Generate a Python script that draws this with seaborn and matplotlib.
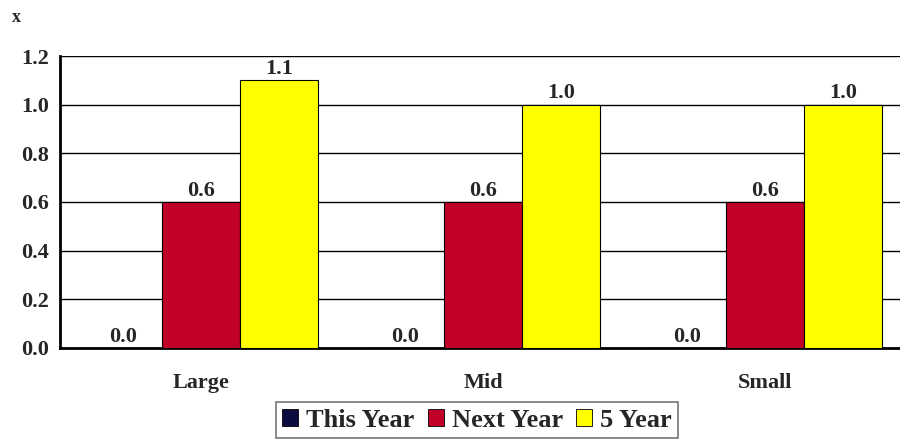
import numpy as np
import pandas as pd
import matplotlib
matplotlib.use('Agg')
import matplotlib.pyplot as plt
import seaborn as sns

# data
categories = ['Large', 'Mid', 'Small']
series = ['This Year', 'Next Year', '5 Year']
this_year = [0.0, 0.0, 0.0]
next_year = [0.6, 0.6, 0.6]
five_year = [1.1, 1.0, 1.0]
colors = ['#0B0B40', '#C00028', '#FFFF00']

rows = []
for name, vals in zip(series, [this_year, next_year, five_year]):
    for c, v in zip(categories, vals):
        rows.append({'cat': c, 'series': name, 'val': v})
df = pd.DataFrame(rows)

sns.set_style('white')
plt.rcParams['font.family'] = ['Liberation Serif', 'DejaVu Serif']
plt.rcParams['font.weight'] = 'bold'

fig = plt.figure(figsize=(9, 4.41), dpi=100)
ax = fig.add_axes([0.0667, 0.211, 0.94, 0.662])

sns.barplot(data=df, x='cat', y='val', hue='series', palette=colors,
            saturation=1, width=0.83, edgecolor='black', linewidth=0.8,
            ax=ax, legend=False, zorder=3)

for cont in ax.containers:
    ax.bar_label(cont, fmt='%.1f', padding=1, fontsize=16, fontweight='bold')

ticks = np.arange(0, 1.21, 0.2)
ax.set_ylim(0, 1.2)
ax.set_xlim(-0.5, 2.5)
ax.set_yticks(ticks)
ax.set_yticklabels(['%.1f' % t for t in ticks], fontsize=16, fontweight='bold')
ax.set_xticks(range(len(categories)))
ax.set_xticklabels(categories, fontsize=16, fontweight='bold')
ax.tick_params(axis='x', pad=18, length=0)
ax.tick_params(axis='y', pad=8, length=0)
ax.yaxis.grid(True, color='black', linewidth=1.0, zorder=0)
ax.set_axisbelow(True)
ax.set_xlabel('')
ax.set_ylabel('')
for s in ['top', 'right']:
    ax.spines[s].set_visible(False)
for s in ['left', 'bottom']:
    ax.spines[s].set_color('black')
    ax.spines[s].set_linewidth(2)

fig.text(0.013, 0.96, 'x', fontsize=13, fontweight='bold', va='center')

handles = [plt.Rectangle((0, 0), 1, 1, facecolor=c, edgecolor='black', linewidth=0.6)
           for c in colors]
leg = fig.legend(handles, series, loc='center', bbox_to_anchor=(0.53, 0.047),
                 ncol=3, frameon=True, fancybox=False,
                 handlelength=0.6, handleheight=0.6, handletextpad=0.3,
                 columnspacing=0.5, borderpad=0.25,
                 prop={'weight': 'bold', 'size': 19})
leg.get_frame().set_edgecolor('#555555')
leg.get_frame().set_linewidth(1.2)

fig.savefig('out.png', dpi=100)
